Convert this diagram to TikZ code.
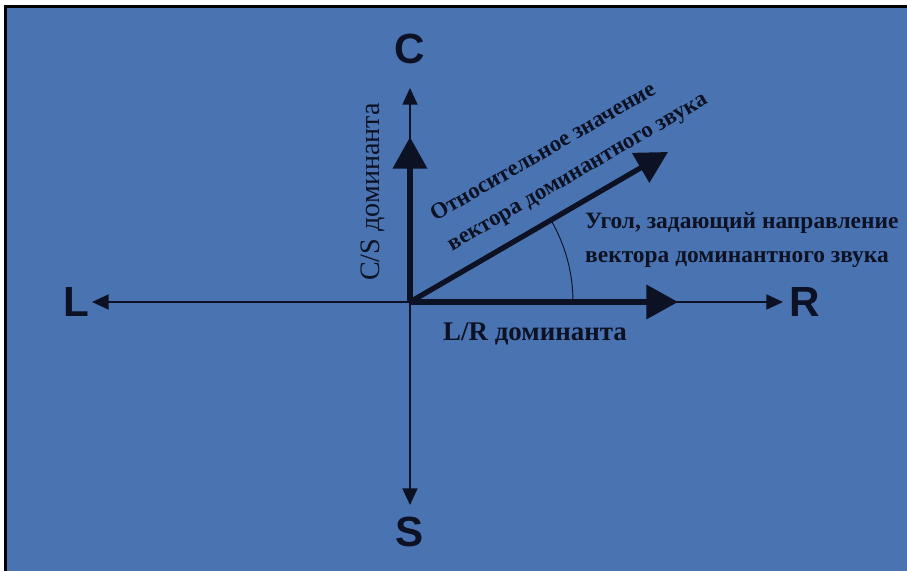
\documentclass[tikz,border=0pt]{standalone}
\usepackage{fontspec}
\setmainfont{Liberation Serif}
\newfontfamily\axfont{Liberation Sans}
\usetikzlibrary{arrows.meta,positioning}
\definecolor{bgblue}{HTML}{4A74B1}
\definecolor{ink}{HTML}{0C1124}
\tikzset{
  axis/.style={-{Triangle[length=5mm,width=4.5mm]},line width=1.6pt,ink},
  vec/.style={-{Triangle[length=9.5mm,width=10mm]},line width=5pt,ink},
  axlab/.style={font=\axfont\bfseries\fontsize{36}{40}\selectfont,text=ink,inner sep=0pt},
  lbl/.style={font=\bfseries\fontsize{20}{29}\selectfont,text=ink,inner sep=0pt},
  lblr/.style={font=\fontsize{24}{29}\selectfont,text=ink,inner sep=0pt},
}

\begin{document}
\begin{tikzpicture}[x=0.03cm,y=0.03cm]
    \useasboundingbox (-410,-269) rectangle (497,302);
    \fill[white] (-410,-269) rectangle (497,302);
    \fill[black] (-406,-269) rectangle (497,297);
    \fill[bgblue] (-403,-269) rectangle (497,294);
    % axes
    \coordinate (o) at (0,0);
    \coordinate (lt) at (-318,0);
    \coordinate (rt) at (373,0);
    \coordinate (ct) at (0,214);
    \coordinate (st) at (0,-203);
    \node[axlab,left=0.06cm of lt] (L) {L};
    \node[axlab,right=0.2cm of rt] (R) {R};
    \node[axlab,above=0.72cm of ct] (C) {C};
    \node[axlab,below=0.36cm of st] (S) {S};
    \draw[axis](o)--(lt);\draw[axis](o)--(rt);
    \draw[axis](o)--(ct);\draw[axis](o)--(st);
    % dominant vectors
    \coordinate (cs) at (0,165);
    \coordinate (lr) at (268,0);
    \coordinate (dv) at (258,150);
    \draw[ink,line width=0.8pt] (163,0) arc[start angle=0,end angle=30,radius=163];
    \draw[vec](o)--(cs);\draw[vec](o)--(lr);
    \draw[vec,line width=4.5pt](o)--(dv);
    \node[lblr,rotate=90] (csl) at (-37,110) {C/S доминанта};
    \node[lbl,font=\bfseries\fontsize{23}{28}\selectfont] (lrl) at (125,-32) {L/R доминанта};
    \node[lbl,font=\bfseries\fontsize{19.5}{29}\selectfont,rotate=30,anchor=west,align=left] (vl) at (31,70) {Относительное значение\\вектора доминантного звука};
    \node[lbl,anchor=west,align=left] (al) at (175,62) {Угол, задающий направление\\вектора доминантного звука};
  \end{tikzpicture}
\end{document}
